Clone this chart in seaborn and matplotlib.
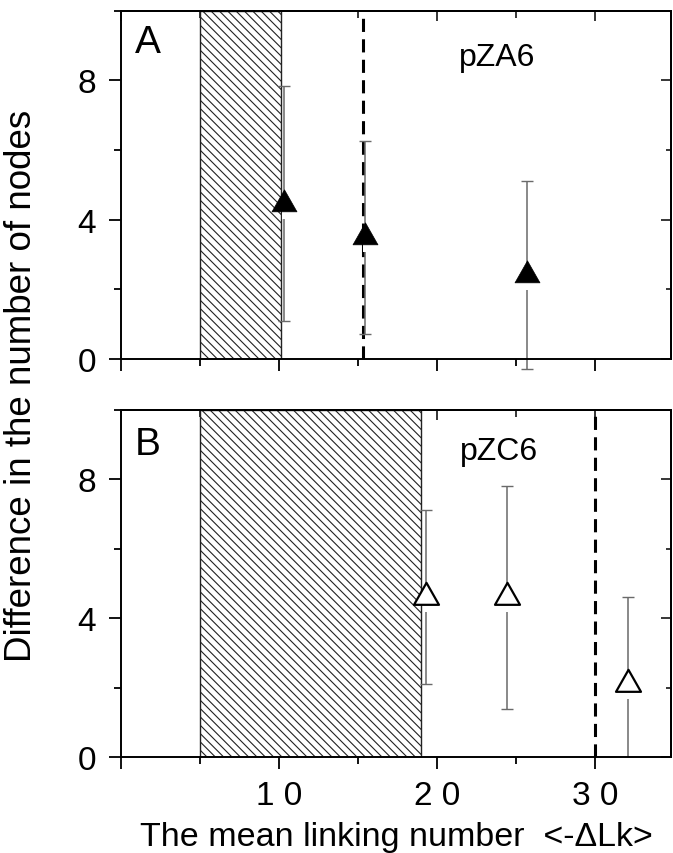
import numpy as np
import pandas as pd
import matplotlib
matplotlib.use("Agg")
import matplotlib.pyplot as plt
import seaborn as sns
from matplotlib.path import Path
from matplotlib.patches import Rectangle
from matplotlib.ticker import MultipleLocator, FixedLocator

# ---------------- data ----------------
panel_labels = ["A", "B"]
plasmids = ["pZA6", "pZC6"]

x_A = [10.3, 15.4, 25.7]
y_A = [4.46, 3.49, 2.40]
err_A = [3.37, 2.78, 2.70]

x_B = [19.3, 24.4, 32.1]
y_B = [4.60, 4.60, 2.10]
err_B = [2.50, 3.20, 2.50]

shade_A = [5.0, 10.1]
shade_B = [5.0, 19.0]
dash_A = 15.3
dash_B = 30.0

xticks = [0, 10, 20, 30]
xticklabels = ["", "1 0", "2 0", "3 0"]
yticks = [0, 4, 8]
yticklabels = ["0", "4", "8"]

xlabel = "The mean linking number  <-\u0394Lk>"
ylabel = "Difference in the number of nodes"

# ---------------- style ----------------
sns.set_theme(style="ticks")
plt.rcParams["font.family"] = ["Liberation Sans", "DejaVu Sans"]
plt.rcParams["hatch.linewidth"] = 0.8
plt.rcParams["axes.linewidth"] = 1.4

# triangle with its centroid at the data point
tri = Path([(0, 14.67), (-12.5, -7.33), (12.5, -7.33), (0, 14.67)],
           [Path.MOVETO, Path.LINETO, Path.LINETO, Path.CLOSEPOLY])
gap = Path([(-2.5, -7.0), (2.5, -7.0), (2.5, -14.67), (-2.5, -14.67), (-2.5, -7.0)],
           [Path.MOVETO, Path.LINETO, Path.LINETO, Path.LINETO, Path.CLOSEPOLY])
S = 21.1 ** 2

fig = plt.figure(figsize=(6.73, 8.54), dpi=100)
axA = fig.add_axes([0.1805, 0.5785, 0.8165, 0.4078])
axB = fig.add_axes([0.1805, 0.1121, 0.8165, 0.4070])

panels = [
    (axA, x_A, y_A, err_A, shade_A, dash_A, True, panel_labels[0], plasmids[0], (23.8, 8.66)),
    (axB, x_B, y_B, err_B, shade_B, dash_B, False, panel_labels[1], plasmids[1], (23.9, 8.8)),
]

for i, (ax, xs, ys, es, shade, dash, filled, plab, pname, ppos) in enumerate(panels):
    df = pd.DataFrame({"x": xs, "y": ys, "err": es})
    ax.set_xlim(0, 34.8)
    ax.set_ylim(0, 10)

    ax.add_patch(Rectangle((shade[0], 0), shade[1] - shade[0], 10,
                           facecolor="white", edgecolor="#222222", lw=1.0,
                           hatch="\\\\\\\\", zorder=1))
    ax.axvline(dash, color="black", lw=2.2, ls=(0, (4.3, 2.4)), zorder=2)

    ax.errorbar(df["x"], df["y"], yerr=df["err"], fmt="none", ecolor="#6a6a6a",
                elinewidth=1.1, capsize=4, capthick=1.0, zorder=3,
                clip_on=not filled)
    sns.scatterplot(data=df, x="x", y="y", marker=gap, s=S, color="white",
                    linewidth=0, ax=ax, zorder=4, legend=False)
    if filled:
        sns.scatterplot(data=df, x="x", y="y", marker=tri, s=S, color="black",
                        edgecolor="black", linewidth=0.5, ax=ax, zorder=5, legend=False)
    else:
        sns.scatterplot(data=df, x="x", y="y", marker=tri, s=S, facecolor="white",
                        edgecolor="black", linewidth=1.6, ax=ax, zorder=5, legend=False)

    ax.set_xlabel("")
    ax.set_ylabel("")
    ax.xaxis.set_major_locator(FixedLocator(xticks))
    ax.xaxis.set_minor_locator(MultipleLocator(5))
    ax.yaxis.set_major_locator(FixedLocator(yticks))
    ax.yaxis.set_minor_locator(MultipleLocator(2))
    ax.set_yticklabels(yticklabels)
    if i == 1:
        ax.set_xticklabels(xticklabels)
    else:
        ax.set_xticklabels([])
    ax.tick_params(which="major", direction="out", length=8.4, width=1.3,
                   labelsize=24, color="black", labelcolor="black")
    ax.tick_params(axis="y", which="major", pad=10)
    ax.tick_params(axis="x", which="major", pad=8)
    ax.tick_params(which="minor", direction="out", length=4.8, width=1.3, color="black")
    for sp in ax.spines.values():
        sp.set_visible(True)
        sp.set_color("black")
        sp.set_linewidth(1.4)
        sp.set_zorder(6)

    top = ax.secondary_xaxis("top")
    top.xaxis.set_major_locator(FixedLocator(xticks))
    top.xaxis.set_minor_locator(MultipleLocator(5))
    top.tick_params(which="major", direction="in", length=7, width=1.3, labeltop=False)
    top.tick_params(which="minor", direction="in", length=5, width=1.3)
    top.set_xticklabels([])
    right = ax.secondary_yaxis("right")
    right.yaxis.set_major_locator(FixedLocator(yticks))
    right.yaxis.set_minor_locator(MultipleLocator(2))
    right.tick_params(which="major", direction="in", length=7, width=1.3, labelright=False)
    right.tick_params(which="minor", direction="in", length=3.8, width=1.3)
    right.set_yticklabels([])
    for s in (top, right):
        for sp in s.spines.values():
            sp.set_linewidth(1.4)
            sp.set_color("black")

    ax.text(0.85, 9.1 if i == 0 else 9.0, plab, fontsize=28, ha="left", va="center",
            color="black", zorder=7)
    ax.text(ppos[0], ppos[1], pname, fontsize=23, ha="center", va="center",
            color="black", zorder=7)

fig.text(22 / 673, 1 - 386 / 854, ylabel, rotation=90, ha="center", va="center",
         fontsize=26.5, color="black")
fig.text(396 / 673, 1 - 846 / 854, xlabel, ha="center", va="baseline",
         fontsize=24.5, color="black")

fig.savefig("out.png", dpi=100)
